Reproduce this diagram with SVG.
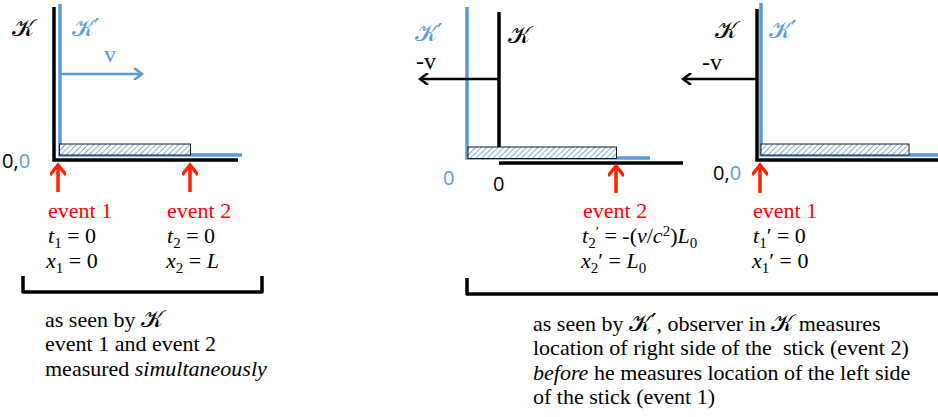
<svg xmlns="http://www.w3.org/2000/svg" width="938" height="417" viewBox="0 0 938 417">
<defs>
<pattern id="hatch" patternUnits="userSpaceOnUse" width="4" height="4" patternTransform="rotate(45)">
<rect width="4" height="4" fill="#ffffff"/>
<line x1="0" y1="0" x2="0" y2="4" stroke="#5b9bd5" stroke-width="1.6"/>
</pattern>
<marker id="ahBlue" markerWidth="12" markerHeight="12" refX="10" refY="6" orient="auto" markerUnits="userSpaceOnUse">
<path d="M2,0 L10,6 L2,12" fill="none" stroke="#5b9bd5" stroke-width="2.5"/>
</marker>
<marker id="ahBlack" markerWidth="12" markerHeight="12" refX="10" refY="6" orient="auto" markerUnits="userSpaceOnUse">
<path d="M2,0 L10,6 L2,12" fill="none" stroke="#000" stroke-width="2.5"/>
</marker>
<marker id="ahRed" markerWidth="20" markerHeight="16" refX="16" refY="8" orient="auto" markerUnits="userSpaceOnUse">
<path d="M6,0 L16,8 L6,16" fill="none" stroke="#ff2200" stroke-width="3.5"/>
</marker>
</defs>
<style>
.kax{stroke:#000;stroke-width:3.5;fill:none}
.bax{stroke:#5b9bd5;stroke-width:3.5;fill:none}
.stick{fill:url(#hatch);stroke:#1a1a1a;stroke-width:1}
.red{stroke:#ff2200;stroke-width:3.5;fill:none}
.cal{font-family:"DejaVu Serif","DejaVu Sans","Noto Sans",serif;font-size:24px;font-style:normal}
.sans{font-family:"Open Sans","Liberation Sans",sans-serif;font-size:20px}
.tm{font-family:"Liberation Serif","Times New Roman",serif;font-size:22px;fill:#000}
.ev{font-family:"Liberation Serif","Times New Roman",serif;font-size:22px;fill:#ff0000}
.vv{font-family:"Liberation Serif","Times New Roman",serif;font-size:24px}
.i{font-style:italic}
.sub{font-size:15px}
.blue{fill:#5b9bd5}
.blk{fill:#000}
.br{stroke:#000;stroke-width:3.5;fill:none;stroke-linejoin:round}
</style>

<g id="frame-left">
<path class="kax" d="M54,7 V160 H238"/>
<path class="bax" d="M60,4 V155 H242"/>
<rect class="stick" x="59.5" y="144" width="131" height="11"/>
<line x1="61" y1="74" x2="142" y2="74" stroke="#5b9bd5" stroke-width="2.5" marker-end="url(#ahBlue)"/>
<text class="vv blue" x="104" y="62">v</text>
<text class="cal blk" x="12" y="36">𝒦</text>
<text class="cal blue" x="72" y="36">𝒦′</text>
<text class="sans" x="2" y="168"><tspan class="blk">0,</tspan><tspan class="blue">0</tspan></text>
</g>

<g id="event-left-1">
<line class="red" x1="58" y1="192" x2="58" y2="165" marker-end="url(#ahRed)"/>
<text class="ev" x="48" y="218">event 1</text>
<text class="tm" x="48" y="243"><tspan class="i">t</tspan><tspan class="sub" dy="5">1</tspan><tspan dy="-5"> = 0</tspan></text>
<text class="tm" x="46" y="268"><tspan class="i">x</tspan><tspan class="sub" dy="5">1</tspan><tspan dy="-5"> = 0</tspan></text>
</g>

<g id="event-left-2">
<line class="red" x1="190" y1="192" x2="190" y2="165" marker-end="url(#ahRed)"/>
<text class="ev" x="167" y="218">event 2</text>
<text class="tm" x="167" y="243"><tspan class="i">t</tspan><tspan class="sub" dy="5">2</tspan><tspan dy="-5"> = 0</tspan></text>
<text class="tm" x="166" y="268"><tspan class="i">x</tspan><tspan class="sub" dy="5">2</tspan><tspan dy="-5"> = </tspan><tspan class="i">L</tspan></text>
</g>

<g id="caption-left">
<path class="br" d="M23,276 V292 H262 V276"/>
<text class="tm" x="45" y="327">as seen by <tspan class="cal" font-size="22">𝒦</tspan></text>
<text class="tm" x="45" y="351">event 1 and event 2</text>
<text class="tm" x="45" y="376">measured <tspan class="i">simultaneously</tspan></text>
</g>

<g id="frame-middle">
<path class="bax" d="M467,7 V158 H650"/>
<path class="kax" d="M499,12 V147 M499,163 H683"/>
<rect class="stick" x="468" y="147" width="148.5" height="11.5"/>
<line x1="499" y1="79" x2="420" y2="79" stroke="#000" stroke-width="2.5" marker-end="url(#ahBlack)"/>
<text class="vv blk" x="416" y="69">-v</text>
<text class="cal blue" x="415" y="41">𝒦′</text>
<text class="cal blk" x="508" y="43">𝒦</text>
<text class="sans blue" x="443" y="185">0</text>
<text class="sans blk" x="493" y="191">0</text>
</g>

<g id="event-middle-2">
<line class="red" x1="616" y1="193" x2="616" y2="166" marker-end="url(#ahRed)"/>
<text class="ev" x="583" y="218">event 2</text>
<text class="tm" x="582" y="243"><tspan class="i">t</tspan><tspan class="sub" dy="5">2</tspan><tspan class="sub" dy="-11">′</tspan><tspan dy="6"> = -(</tspan><tspan class="i">v</tspan><tspan>/</tspan><tspan class="i">c</tspan><tspan class="sub" dy="-7">2</tspan><tspan dy="7">)</tspan><tspan class="i">L</tspan><tspan class="sub" dy="5">0</tspan></text>
<text class="tm" x="581" y="268"><tspan class="i">x</tspan><tspan class="sub" dy="5">2</tspan><tspan dy="-5">′ = </tspan><tspan class="i">L</tspan><tspan class="sub" dy="5">0</tspan></text>
</g>

<g id="frame-right">
<path class="kax" d="M757,9 V160 H938"/>
<path class="bax" d="M761,3 V155 H938"/>
<rect class="stick" x="761" y="144" width="148" height="11"/>
<line x1="757" y1="79" x2="683" y2="79" stroke="#000" stroke-width="2.5" marker-end="url(#ahBlack)"/>
<text class="vv blk" x="702" y="70">-v</text>
<text class="cal blk" x="715" y="38">𝒦</text>
<text class="cal blue" x="769" y="38">𝒦′</text>
<text class="sans" x="713" y="180"><tspan class="blk">0,</tspan><tspan class="blue">0</tspan></text>
</g>

<g id="event-right-1">
<line class="red" x1="760" y1="193" x2="760" y2="165" marker-end="url(#ahRed)"/>
<text class="ev" x="753" y="218">event 1</text>
<text class="tm" x="753" y="243"><tspan class="i">t</tspan><tspan class="sub" dy="5">1</tspan><tspan dy="-5">′ = 0</tspan></text>
<text class="tm" x="752" y="268"><tspan class="i">x</tspan><tspan class="sub" dy="5">1</tspan><tspan dy="-5">′ = 0</tspan></text>
</g>

<g id="caption-right">
<path class="br" d="M467,278 V294 H945"/>
<text class="tm" x="533" y="331">as seen by <tspan class="cal" font-size="22">𝒦′</tspan>, observer in <tspan class="cal" font-size="22">𝒦</tspan> measures</text>
<text class="tm" x="533" y="355" xml:space="preserve">location of right side of the  stick (event 2)</text>
<text class="tm" x="533" y="380"><tspan class="i">before</tspan> he measures location of the left side</text>
<text class="tm" x="533" y="404">of the stick (event 1)</text>
</g>
</svg>
